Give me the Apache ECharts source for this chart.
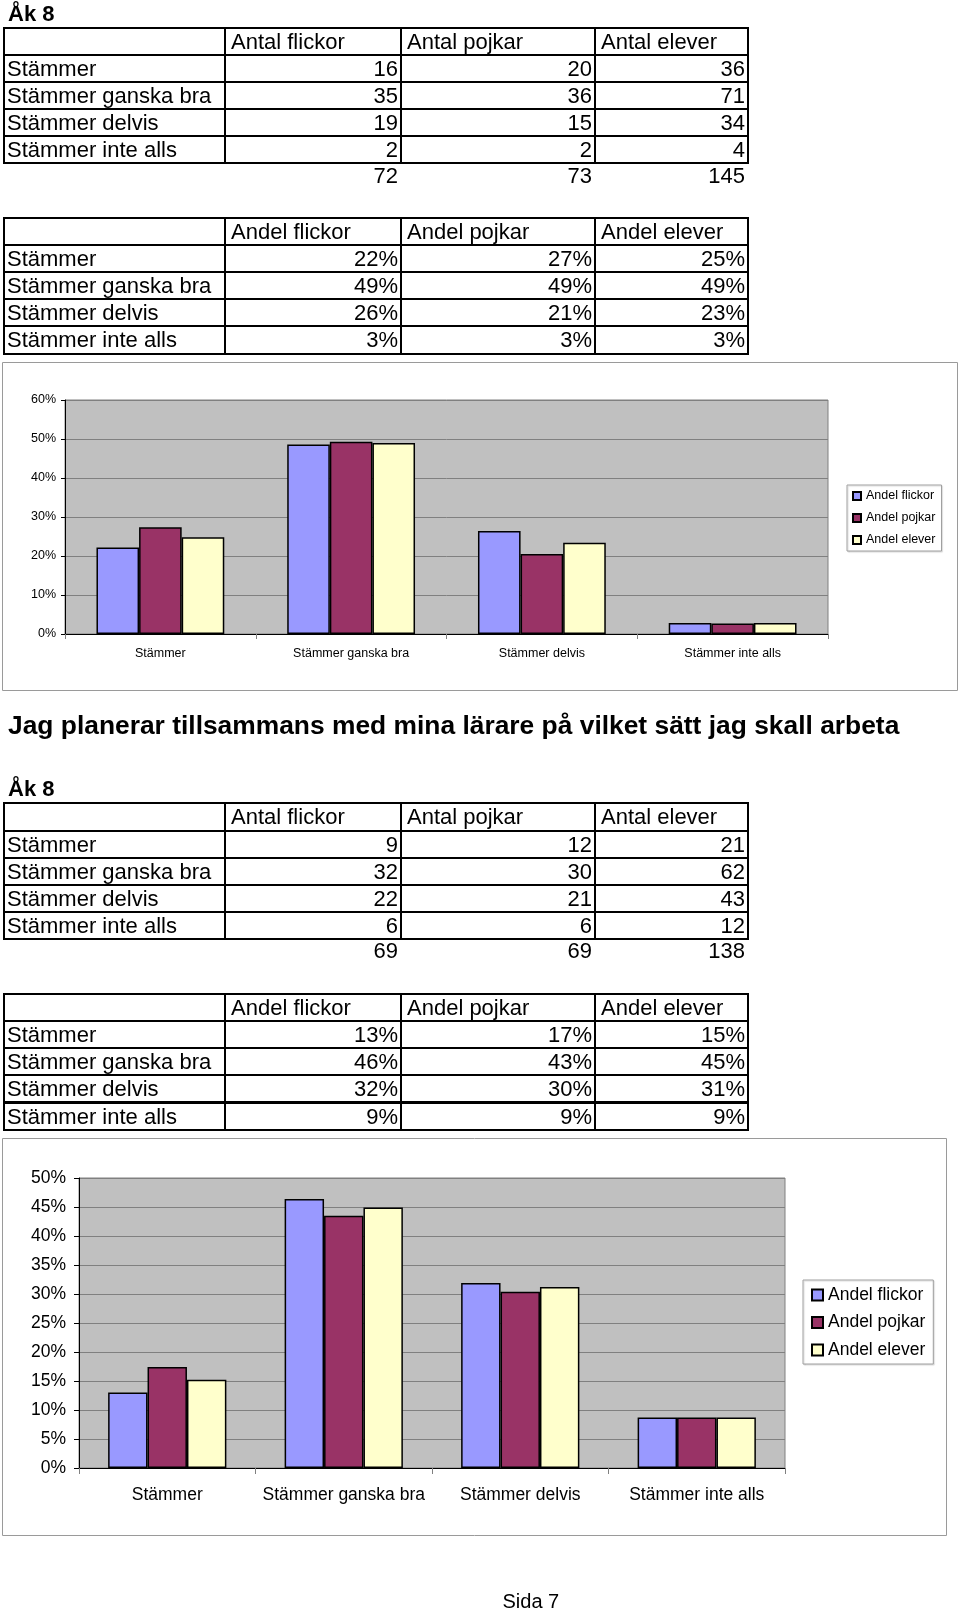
<!DOCTYPE html>
<html>
<head>
<meta charset="utf-8">
<script src="https://cdn.jsdelivr.net/npm/echarts@6/dist/echarts.min.js"></script>
<style>
  html, body { margin:0; padding:0; background:#fff; }
  body { width:960px; height:1611px; position:relative; overflow:hidden; font-family:"Liberation Sans", Arial, sans-serif; }
  #chart { position:absolute; left:0; top:0; width:960px; height:1611px; }
  .cell { position:absolute; box-sizing:border-box; border:2px solid #000; font-size:22px; color:#000; white-space:nowrap; overflow:hidden; }
  .plain { position:absolute; box-sizing:border-box; font-size:22px; color:#000; white-space:nowrap; }
  .txt { position:absolute; white-space:nowrap; color:#000; }
</style>
</head>
<body>
<div id="chart"></div>
<div id="tables"></div>
<script>
// ---------- data ----------
const categories = ['Stämmer', 'Stämmer ganska bra', 'Stämmer delvis', 'Stämmer inte alls'];
const countHeaders = ['Antal flickor', 'Antal pojkar', 'Antal elever'];
const shareHeaders = ['Andel flickor', 'Andel pojkar', 'Andel elever'];
const seriesNames = ['Andel flickor', 'Andel pojkar', 'Andel elever'];
const gradeLabel = 'Åk 8';
const question2Title = 'Jag planerar tillsammans med mina lärare på vilket sätt jag skall arbeta';
const pageLabel = 'Sida 7';

// question 1 table
const q1Flickor = [16, 35, 19, 2];
const q1Pojkar = [20, 36, 15, 2];
const q1Elever = [36, 71, 34, 4];
const q1Totals = [72, 73, 145];
const q1ShareFlickor = ['22%', '49%', '26%', '3%'];
const q1SharePojkar = ['27%', '49%', '21%', '3%'];
const q1ShareElever = ['25%', '49%', '23%', '3%'];
// question 1 chart (percent)
const q1BarFlickor = [22.2, 48.6, 26.4, 2.8];
const q1BarPojkar = [27.4, 49.3, 20.5, 2.7];
const q1BarElever = [24.8, 49.0, 23.4, 2.8];
const q1Ticks = [0, 60, 10];

// question 2 table
const q2Flickor = [9, 32, 22, 6];
const q2Pojkar = [12, 30, 21, 6];
const q2Elever = [21, 62, 43, 12];
const q2Totals = [69, 69, 138];
const q2ShareFlickor = ['13%', '46%', '32%', '9%'];
const q2SharePojkar = ['17%', '43%', '30%', '9%'];
const q2ShareElever = ['15%', '45%', '31%', '9%'];
// question 2 chart (percent)
const q2BarFlickor = [13.0, 46.4, 31.9, 8.7];
const q2BarPojkar = [17.4, 43.5, 30.4, 8.7];
const q2BarElever = [15.2, 44.9, 31.2, 8.7];
const q2Ticks = [0, 50, 5];

const barColors = ['#9999ff', '#993366', '#ffffcc'];

// ---------- tables (HTML) ----------
const colX = [4, 225, 401, 595, 748];
const rowH = 27.2;
const host = document.getElementById('tables');
function addCell(cls, x0, x1, y, h, text, align, pad) {
  const d = document.createElement('div');
  d.className = cls;
  d.style.left = (x0 - 1) + 'px';
  d.style.top = (y - 1) + 'px';
  d.style.width = (x1 - x0 + 2) + 'px';
  d.style.height = (h + 2) + 'px';
  d.style.lineHeight = (h - 2) + 'px';
  d.style.textAlign = align;
  if (align === 'left') d.style.paddingLeft = pad + 'px'; else d.style.paddingRight = pad + 'px';
  d.textContent = text;
  host.appendChild(d);
}
function drawTable(top, headers, cols, totals) {
  addCell('cell', colX[0], colX[1], top, rowH, '', 'left', 3);
  headers.forEach((h, i) => addCell('cell', colX[i + 1], colX[i + 2], top, rowH, h, 'left', 5));
  categories.forEach((c, r) => {
    const y = top + (r + 1) * rowH;
    addCell('cell', colX[0], colX[1], y, rowH, c, 'left', 2);
    cols.forEach((col, i) => addCell('cell', colX[i + 1], colX[i + 2], y, rowH, String(col[r]), 'right', 2));
  });
  if (totals) {
    const y = top + 5 * rowH;
    totals.forEach((t, i) => addCell('plain', colX[i + 1], colX[i + 2], y, rowH, String(t), 'right', 4));
  }
}
drawTable(27.5, countHeaders, [q1Flickor, q1Pojkar, q1Elever], q1Totals);
drawTable(217.6, shareHeaders, [q1ShareFlickor, q1SharePojkar, q1ShareElever], null);
drawTable(803.4, countHeaders, [q2Flickor, q2Pojkar, q2Elever], q2Totals);
drawTable(993.7, shareHeaders, [q2ShareFlickor, q2SharePojkar, q2ShareElever], null);

function addText(text, x, yCenter, size, bold, center) {
  const d = document.createElement('div');
  d.className = 'txt';
  d.style.fontSize = size + 'px';
  d.style.fontWeight = bold ? 'bold' : 'normal';
  d.style.lineHeight = size + 'px';
  d.style.top = (yCenter - size / 2) + 'px';
  d.textContent = text;
  host.appendChild(d);
  if (center) d.style.left = (x - d.offsetWidth / 2) + 'px'; else d.style.left = x + 'px';
  return d;
}
addText(gradeLabel, 8, 13.5, 22, true, false);
addText(gradeLabel, 8, 788.5, 22, true, false);
const t = addText(question2Title, 8, 725, 24, true, false);
const tw = t.offsetWidth;
const fit = 24 * 892 / tw;
t.style.fontSize = fit + 'px';
t.style.lineHeight = fit + 'px';
t.style.top = (725.5 - fit / 2) + 'px';
addText(pageLabel, 531, 1601, 20, false, true);

// ---------- charts (ECharts) ----------
const chart = echarts.init(document.getElementById('chart'), null, { renderer: 'canvas' });
function makeSeries(idx, values, gi, bw) {
  return {
    name: seriesNames[idx], type: 'bar', xAxisIndex: gi, yAxisIndex: gi,
    data: values, barGap: '0%', barCategoryGap: '33%',
    itemStyle: { color: barColors[idx], borderColor: '#000', borderWidth: bw },
    emphasis: { disabled: true }, animation: false
  };
}
const font = '"Liberation Sans", Arial, sans-serif';
const option = {
  animation: false,
  textStyle: { fontFamily: font },
  graphic: [
    { type: 'rect', shape: { x: 2.5, y: 362.5, width: 955, height: 328 }, style: { fill: 'none', stroke: '#9a9a9a', lineWidth: 1 }, z: -10 },
    { type: 'rect', shape: { x: 2.5, y: 1138.5, width: 944, height: 397 }, style: { fill: 'none', stroke: '#9a9a9a', lineWidth: 1 }, z: -10 }
  ],
  grid: [
    { left: 65, top: 400, width: 763, height: 234, show: true, backgroundColor: '#c0c0c0', borderColor: '#808080', borderWidth: 1, containLabel: false },
    { left: 79, top: 1178, width: 706, height: 290, show: true, backgroundColor: '#c0c0c0', borderColor: '#808080', borderWidth: 1, containLabel: false }
  ],
  legend: [
    { data: seriesNames.map(n => ({ name: n })), orient: 'vertical', left: 847, top: 485,
      padding: [4, 6, 4, 5], itemGap: 8, itemWidth: 8, itemHeight: 8, icon: 'rect',
      backgroundColor: '#fff', borderColor: '#a0a0a0', borderWidth: 1,
      shadowColor: 'rgba(0,0,0,0.15)', shadowOffsetX: 1, shadowOffsetY: 1, shadowBlur: 1,
      textStyle: { fontSize: 12.5, color: '#000', lineHeight: 14, fontFamily: font }, selectedMode: false },
    { data: seriesNames.map(n => ({ name: n })), orient: 'vertical', left: 803, top: 1280,
      padding: [6, 8, 5, 8], itemGap: 9.5, itemWidth: 11, itemHeight: 11, icon: 'rect',
      backgroundColor: '#fff', borderColor: '#a0a0a0', borderWidth: 1,
      shadowColor: 'rgba(0,0,0,0.15)', shadowOffsetX: 1, shadowOffsetY: 1, shadowBlur: 1,
      textStyle: { fontSize: 17.5, color: '#000', lineHeight: 18, fontFamily: font }, selectedMode: false }
  ],
  xAxis: [
    { type: 'category', gridIndex: 0, data: categories, boundaryGap: true,
      axisLine: { lineStyle: { color: '#000', width: 1 } },
      axisTick: { show: true, length: 5, lineStyle: { color: '#808080' } },
      axisLabel: { fontSize: 12.5, color: '#000', margin: 13, fontFamily: font, interval: 0 } },
    { type: 'category', gridIndex: 1, data: categories, boundaryGap: true,
      axisLine: { lineStyle: { color: '#000', width: 1 } },
      axisTick: { show: true, length: 6, lineStyle: { color: '#808080' } },
      axisLabel: { fontSize: 17.5, color: '#000', margin: 18, fontFamily: font, interval: 0 } }
  ],
  yAxis: [
    { type: 'value', gridIndex: 0, min: q1Ticks[0], max: q1Ticks[1], interval: q1Ticks[2],
      axisLine: { show: true, lineStyle: { color: '#000', width: 1 } },
      axisTick: { show: true, length: 4, lineStyle: { color: '#000' } },
      splitLine: { show: true, lineStyle: { color: '#808080', width: 1 } },
      axisLabel: { formatter: '{value}%', fontSize: 12.5, color: '#000', margin: 9, fontFamily: font } },
    { type: 'value', gridIndex: 1, min: q2Ticks[0], max: q2Ticks[1], interval: q2Ticks[2],
      axisLine: { show: true, lineStyle: { color: '#000', width: 1 } },
      axisTick: { show: true, length: 5, lineStyle: { color: '#000' } },
      splitLine: { show: true, lineStyle: { color: '#808080', width: 1 } },
      axisLabel: { formatter: '{value}%', fontSize: 17.5, color: '#000', margin: 13, fontFamily: font } }
  ],
  series: [
    makeSeries(0, q1BarFlickor, 0, 1.5),
    makeSeries(1, q1BarPojkar, 0, 1.5),
    makeSeries(2, q1BarElever, 0, 1.5),
    makeSeries(0, q2BarFlickor, 1, 1.5),
    makeSeries(1, q2BarPojkar, 1, 1.5),
    makeSeries(2, q2BarElever, 1, 1.5)
  ]
};
chart.setOption(option);
</script>
</body>
</html>
